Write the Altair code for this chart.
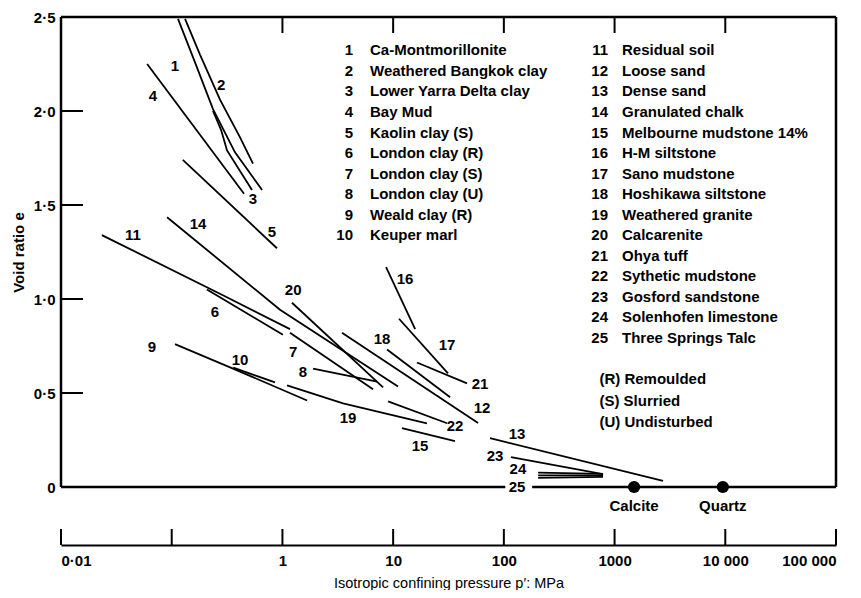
import altair as alt
import pandas as pd

# ---------------- data ----------------
# compression lines: one key per line (24 has three strokes)
curve_key = (["1"] * 5 + ["2"] * 5 + ["3"] * 4 + ["4"] * 2 + ["5"] * 2 + ["6"] * 2 + ["7"] * 2
             + ["8"] * 2 + ["9"] * 3 + ["10"] * 2 + ["11"] * 3 + ["12"] * 2 + ["13"] * 2 + ["14"] * 3
             + ["15"] * 2 + ["16"] * 2 + ["17"] * 2 + ["18"] * 2 + ["19"] * 3 + ["20"] * 2 + ["21"] * 2
             + ["22"] * 2 + ["23"] * 2 + ["24a"] * 2 + ["24b"] * 2 + ["24c"] * 2)
curve_p = [
    0.114, 0.162, 0.236, 0.373, 0.655,      # 1
    0.132, 0.180, 0.273, 0.414, 0.542,      # 2
    0.236, 0.279, 0.316, 0.531,             # 3
    0.060, 0.450,                           # 4
    0.126, 0.893,                           # 5
    0.208, 1.01,                            # 6
    1.17, 6.58,                             # 7
    1.89, 7.16,                             # 8
    0.107, 0.358, 1.67,                     # 9
    0.36, 0.857,                            # 10
    0.0234, 0.290, 1.17,                    # 11
    3.45, 58.5,                             # 12
    75.0, 2740,                             # 13
    0.0908, 0.951, 11.07,                   # 14
    12.0, 36.2,                             # 15
    8.63, 15.8,                             # 16
    11.3, 31.3,                             # 17
    8.81, 32.7,                             # 18
    1.10, 3.53, 20.2,                       # 19
    1.22, 8.11,                             # 20
    16.4, 46.5,                             # 21
    9.0, 30.7,                              # 22
    116, 787,                               # 23
    204, 787,                               # 24a
    204, 787,                               # 24b
    204, 787,                               # 24c
]
curve_e = [
    2.49, 2.26, 2.01, 1.78, 1.58,           # 1
    2.49, 2.30, 2.06, 1.86, 1.72,           # 2
    2.00, 1.90, 1.79, 1.58,                 # 3
    2.25, 1.56,                             # 4
    1.74, 1.27,                             # 5
    1.05, 0.81,                             # 6
    0.82, 0.52,                             # 7
    0.63, 0.56,                             # 8
    0.76, 0.63, 0.46,                       # 9
    0.635, 0.556,                           # 10
    1.34, 1.02, 0.84,                       # 11
    0.82, 0.34,                             # 12
    0.26, 0.032,                            # 13
    1.435, 0.943, 0.535,                    # 14
    0.313, 0.244,                           # 15
    1.17, 0.84,                             # 16
    0.895, 0.604,                           # 17
    0.731, 0.477,                           # 18
    0.54, 0.445, 0.339,                     # 19
    0.98, 0.53,                             # 20
    0.662, 0.551,                           # 21
    0.455, 0.339,                           # 22
    0.159, 0.069,                           # 23
    0.076, 0.070,                           # 24a
    0.062, 0.062,                           # 24b
    0.049, 0.054,                           # 24c
]

# number labels next to the lines
label_text = [str(i) for i in range(1, 26)]
label_p = [0.107, 0.279, 0.542, 0.0678, 0.805, 0.246, 1.25, 1.53, 0.0664, 0.414,
           0.0447, 63.5, 131.5, 0.173, 17.5, 12.8, 30.7, 7.94, 3.92, 1.25,
           61.0, 36.2, 83.3, 134, 131.5]
label_e = [2.24, 2.14, 1.53, 2.08, 1.356, 0.932, 0.72, 0.614, 0.747, 0.678,
           1.34, 0.418, 0.281, 1.398, 0.217, 1.107, 0.757, 0.789, 0.365, 1.049,
           0.546, 0.323, 0.164, 0.095, 0.0]

# legend
left_num = [str(i) for i in range(1, 11)]
left_name = ["Ca-Montmorillonite", "Weathered Bangkok clay", "Lower Yarra Delta clay", "Bay Mud",
             "Kaolin clay (S)", "London clay (R)", "London clay (S)", "London clay (U)",
             "Weald clay (R)", "Keuper marl"]
right_num = [str(i) for i in range(11, 26)]
right_name = ["Residual soil", "Loose sand", "Dense sand", "Granulated chalk",
              "Melbourne mudstone 14%", "H-M siltstone", "Sano mudstone", "Hoshikawa siltstone",
              "Weathered granite", "Calcarenite", "Ohya tuff", "Sythetic mudstone",
              "Gosford sandstone", "Solenhofen limestone", "Three Springs Talc"]
notes = ["(R) Remoulded", "(S) Slurried", "(U) Undisturbed"]

# reference minerals
ref_name = ["Calcite", "Quartz"]
ref_p = [1500, 9500]
ref_e = [0.0, 0.0]

# axes
x_tick_values = [0.01, 0.1, 1, 10, 100, 1000, 10000, 100000]
x_tick_labels = ["0·01", "", "1", "10", "100", "1000", "10 000", "100 000"]
y_tick_values = [0, 0.5, 1.0, 1.5, 2.0, 2.5]
y_tick_labels = ["0", "0·5", "1·0", "1·5", "2·0", "2·5"]
y_inner_ticks = [0.5, 1.0, 1.5, 2.0]
top_ticks = [1, 10, 100, 1000, 10000]

# frame (bottom edge broken around label 25)
frame_p = [0.01, 0.01, 100000, 0.01, 180]
frame_p2 = [0.01, 100000, 100000, 103, 100000]
frame_e = [0.0, 2.5, 0.0, 0.0, 0.0]
frame_e2 = [2.5, 2.5, 2.5, 0.0, 0.0]

# ---------------- layout / style ----------------
FONT = "Liberation Sans"
W, H = 775, 470
AX_OFF = 58
LEG_TOP, LEG_STEP = 2.322, 0.1091
NOTE_TOP, NOTE_STEP = 0.572, 0.114


def lab_expr(values, labels):
    parts = []
    for v, l in zip(values, labels):
        tol = abs(v) * 1e-6 if v else 1e-9
        parts.append(f"abs(datum.value - {v}) < {tol} ? '{l}'")
    return " : ".join(parts) + " : ''"


xs = alt.Scale(type="log", domain=[0.01, 100000], nice=False)
ys = alt.Scale(domain=[0, 2.5], nice=False, zero=False)

x_axis = alt.Axis(values=x_tick_values, labelExpr=lab_expr(x_tick_values, x_tick_labels),
                  orient="bottom", offset=AX_OFF, ticks=False, tickSize=0, grid=False,
                  domain=True, domainColor="black", domainWidth=2,
                  labelFont=FONT, labelFontSize=15, labelFontWeight="bold", labelColor="black",
                  labelPadding=8, labelFlush=True, labelOverlap=False,
                  title="Isotropic confining pressure p′: MPa", titleFont=FONT, titleFontSize=14.5,
                  titleFontWeight="normal", titleColor="black", titlePadding=8)
y_axis = alt.Axis(values=y_tick_values, labelExpr=lab_expr(y_tick_values, y_tick_labels),
                  ticks=False, tickSize=0, grid=False, domain=False,
                  labelFont=FONT, labelFontSize=15, labelFontWeight="bold", labelColor="black",
                  labelPadding=6, labelFlush=False, labelOverlap=False,
                  title="Void ratio e", titleFont=FONT, titleFontSize=15, titleFontWeight="bold",
                  titleColor="black", titlePadding=7)


def X():
    return alt.X("p:Q", scale=xs, axis=x_axis)


def Y():
    return alt.Y("e:Q", scale=ys, axis=y_axis)


curve_df = pd.DataFrame({"key": curve_key, "p": curve_p, "e": curve_e,
                         "idx": list(range(len(curve_key)))})
label_df = pd.DataFrame({"t": label_text, "p": label_p, "e": label_e})
frame_df = pd.DataFrame({"p": frame_p, "p2": frame_p2, "e": frame_e, "e2": frame_e2})
ref_df = pd.DataFrame({"name": ref_name, "p": ref_p, "e": ref_e})

leg_left_num = pd.DataFrame({"t": left_num, "p": 4.34,
                             "e": [LEG_TOP - i * LEG_STEP for i in range(len(left_num))]})
leg_left_name = pd.DataFrame({"t": left_name, "p": 6.18,
                              "e": [LEG_TOP - i * LEG_STEP for i in range(len(left_name))]})
leg_right_num = pd.DataFrame({"t": right_num, "p": 873,
                              "e": [LEG_TOP - i * LEG_STEP for i in range(len(right_num))]})
leg_right_name = pd.DataFrame({"t": right_name, "p": 1167,
                               "e": [LEG_TOP - i * LEG_STEP for i in range(len(right_name))]})
notes_df = pd.DataFrame({"t": notes, "p": 730,
                         "e": [NOTE_TOP - i * NOTE_STEP for i in range(len(notes))]})

frame = alt.Chart(frame_df).mark_rule(color="black", strokeWidth=2.5).encode(
    x=X(), x2=alt.X2("p2"), y=Y(), y2=alt.Y2("e2"))

curves = alt.Chart(curve_df).mark_line(color="black", strokeWidth=1.8).encode(
    x=X(), y=Y(), detail="key:N", order=alt.Order("idx:Q"))

txt = dict(font=FONT, fontSize=15, fontWeight="bold", color="black", baseline="middle")

labels = alt.Chart(label_df).mark_text(align="center", **txt).encode(x=X(), y=Y(), text="t:N")

legend_layers = [
    alt.Chart(leg_left_num).mark_text(align="right", **txt).encode(x=X(), y=Y(), text="t:N"),
    alt.Chart(leg_left_name).mark_text(align="left", **txt).encode(x=X(), y=Y(), text="t:N"),
    alt.Chart(leg_right_num).mark_text(align="right", **txt).encode(x=X(), y=Y(), text="t:N"),
    alt.Chart(leg_right_name).mark_text(align="left", **txt).encode(x=X(), y=Y(), text="t:N"),
    alt.Chart(notes_df).mark_text(align="left", **txt).encode(x=X(), y=Y(), text="t:N"),
]

ref_pts = alt.Chart(ref_df).mark_circle(color="black", size=150, opacity=1).encode(x=X(), y=Y())
ref_txt = alt.Chart(ref_df).mark_text(align="center", dy=19, **txt).encode(x=X(), y=Y(), text="name:N")

y_ticks = alt.Chart(pd.DataFrame({"e": y_inner_ticks})).mark_rule(color="black", strokeWidth=2).encode(
    y=Y(), x=alt.value(0), x2=alt.value(22))
t_ticks = alt.Chart(pd.DataFrame({"p": top_ticks})).mark_rule(color="black", strokeWidth=2).encode(
    x=X(), y=alt.value(0), y2=alt.value(16))
b_ticks = alt.Chart(pd.DataFrame({"p": x_tick_values})).mark_rule(color="black", strokeWidth=2).encode(
    x=X(), y=alt.value(H + AX_OFF - 16), y2=alt.value(H + AX_OFF))

chart = alt.layer(frame, curves, labels, *legend_layers, ref_pts, ref_txt, y_ticks, t_ticks, b_ticks).properties(
    width=W, height=H,
    padding={"left": 53, "top": 9, "right": 17, "bottom": 103},
    autosize=alt.AutoSizeParams(type="none"),
    background="white",
).configure_view(stroke=None)

chart.save("out.html", embed_options={"renderer": "svg", "actions": False})
